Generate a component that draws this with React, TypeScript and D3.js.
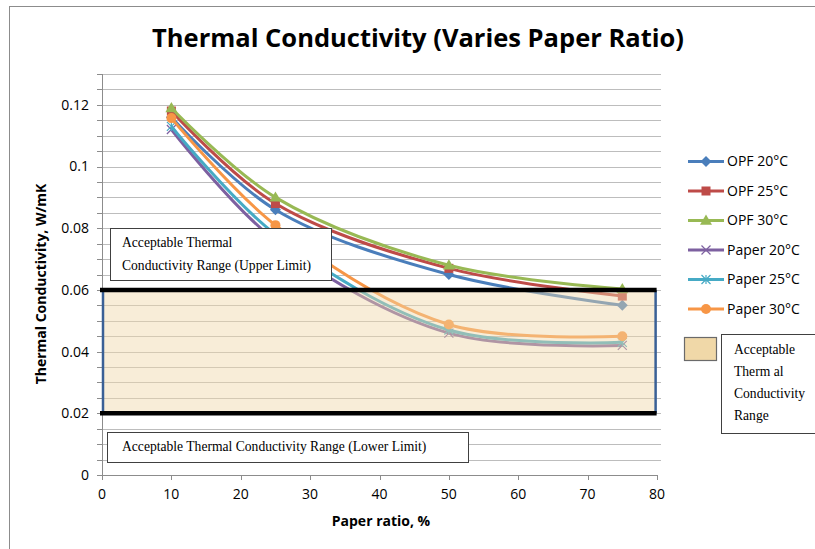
import React from "react";
import * as d3 from "d3";

const xValues = [10, 25, 50, 75];
const seriesNames = ["OPF 20°C", "OPF 25°C", "OPF 30°C", "Paper 20°C", "Paper 25°C", "Paper 30°C"];
const opf20 = [0.116, 0.086, 0.065, 0.055];
const opf25 = [0.118, 0.088, 0.067, 0.058];
const opf30 = [0.119, 0.09, 0.068, 0.0603];
const paper20 = [0.112, 0.076, 0.046, 0.042];
const paper25 = [0.113, 0.078, 0.047, 0.043];
const paper30 = [0.1157, 0.081, 0.0488, 0.045];
const xTicks = [0, 10, 20, 30, 40, 50, 60, 70, 80];
const yTicks = [0, 0.02, 0.04, 0.06, 0.08, 0.1, 0.12];
const rangeLow = 0.02;
const rangeHigh = 0.06;

const colors = ["#4a7ebb", "#be4b48", "#98b954", "#7d60a0", "#46aac5", "#f79646"];
const markers = ["diamond", "square", "triangle", "x", "star", "circle"];

const W = 815;
const H = 549;
const x = d3.scaleLinear().domain([0, 80]).range([102, 657]);
const y = d3.scaleLinear().domain([0, 0.13]).range([475, 74]);

function Marker({ type, cx, cy, color }: { type: string; cx: number; cy: number; color: string }) {
  if (type === "diamond") {
    const s = 5.5;
    return <path d={`M${cx},${cy - s}L${cx + s},${cy}L${cx},${cy + s}L${cx - s},${cy}Z`} fill={color} />;
  }
  if (type === "square") return <rect x={cx - 4.5} y={cy - 4.5} width={9} height={9} fill={color} />;
  if (type === "triangle") {
    const s = 6;
    return <path d={`M${cx},${cy - s}L${cx + s},${cy + s * 0.7}L${cx - s},${cy + s * 0.7}Z`} fill={color} />;
  }
  if (type === "x") {
    const s = 4.5;
    return (
      <path d={`M${cx - s},${cy - s}L${cx + s},${cy + s}M${cx - s},${cy + s}L${cx + s},${cy - s}`} stroke={color} strokeWidth={1.2} fill="none" />
    );
  }
  if (type === "star") {
    const s = 4.5;
    return (
      <path d={`M${cx - s},${cy - s}L${cx + s},${cy + s}M${cx - s},${cy + s}L${cx + s},${cy - s}M${cx},${cy - s}L${cx},${cy + s}`} stroke={color} strokeWidth={1.2} fill="none" />
    );
  }
  return <circle cx={cx} cy={cy} r={5} fill={color} />;
}

export default function App() {
  const allSeries = [opf20, opf25, opf30, paper20, paper25, paper30];
  const line = d3
    .line<number>()
    .x((_, i) => x(xValues[i]))
    .y((d) => y(d))
    .curve(d3.curveCatmullRom.alpha(0.5));

  const grid: number[] = [];
  for (let i = 1; i <= 26; i++) grid.push(i * 0.005);
  const minorTicks: number[] = [];
  for (let i = 0; i <= 26; i++) minorTicks.push(i * 0.005);

  const sans = "'Open Sans', 'Liberation Sans', sans-serif";
  const serif = "'Liberation Serif', 'DejaVu Serif', serif";

  return (
    <svg width={W} height={H} style={{ position: "absolute", left: 0, top: 0 }} fontFamily={sans}>
      <rect x={0} y={0} width={W} height={H} fill="#fff" />
      <rect x={9.5} y={6.5} width={W + 20} height={H + 20} fill="none" stroke="#8c8c8c" strokeWidth={1} />
      <text x={418} y={47} textAnchor="middle" fontSize={25.5} fontWeight="bold" fill="#000">
        Thermal Conductivity (Varies Paper Ratio)
      </text>

      {/* gridlines */}
      {grid.map((g) => (
        <line key={g} x1={x(0)} x2={x(80) + 4} y1={Math.round(y(g)) + 0.5} y2={Math.round(y(g)) + 0.5} stroke="#bdbdbd" strokeWidth={1} />
      ))}
      <line x1={x(0)} x2={x(80) + 4} y1={74.5} y2={74.5} stroke="#bdbdbd" />

      {/* axes */}
      <line x1={x(0) + 0.5} x2={x(0) + 0.5} y1={y(0.13)} y2={y(0)} stroke="#8c8c8c" />
      <line x1={x(0)} x2={x(80)} y1={y(0) + 0.5} y2={y(0) + 0.5} stroke="#8c8c8c" />
      {minorTicks.map((t) => (
        <line key={t} x1={x(0) - 5} x2={x(0)} y1={Math.round(y(t)) + 0.5} y2={Math.round(y(t)) + 0.5} stroke="#8c8c8c" />
      ))}
      {xTicks.map((t) => (
        <line key={t} x1={Math.round(x(t)) + 0.5} x2={Math.round(x(t)) + 0.5} y1={y(0)} y2={y(0) + 5} stroke="#8c8c8c" />
      ))}
      {yTicks.map((t) => (
        <text key={t} x={89} y={y(t)} dy="0.35em" textAnchor="end" fontSize={14} fill="#000">
          {t === 0 ? "0" : String(+t.toFixed(2))}
        </text>
      ))}
      {xTicks.map((t) => (
        <text key={t} x={x(t)} y={499} textAnchor="middle" fontSize={14} fill="#000">
          {t}
        </text>
      ))}
      <text x={381} y={526} textAnchor="middle" fontSize={14} fontWeight="bold">
        Paper ratio, %
      </text>
      <text transform={`translate(46,284) rotate(-90)`} textAnchor="middle" fontSize={14} fontWeight="bold">
        Thermal Conductivity, W/mK
      </text>

      {/* series */}
      {allSeries.map((s, k) => (
        <g key={k}>
          <path d={line(s) || ""} fill="none" stroke={colors[k]} strokeWidth={3} />
          {s.map((v, i) => (
            <Marker key={i} type={markers[k]} cx={x(xValues[i])} cy={y(v)} color={colors[k]} />
          ))}
        </g>
      ))}

      {/* acceptable range box */}
      <rect x={x(0)} y={y(rangeHigh)} width={x(79.8) - x(0)} height={y(rangeLow) - y(rangeHigh)} fill="#f0d8a8" fillOpacity={0.45} />
      <line x1={x(0) + 1} x2={x(0) + 1} y1={y(rangeHigh)} y2={y(rangeLow)} stroke="#3a6096" strokeWidth={2.5} />
      <line x1={x(79.8)} x2={x(79.8)} y1={y(rangeHigh)} y2={y(rangeLow)} stroke="#3a6096" strokeWidth={2.5} />
      <line x1={x(0) - 2} x2={x(79.8) + 1} y1={y(rangeHigh)} y2={y(rangeHigh)} stroke="#000" strokeWidth={4.5} />
      <line x1={x(0) - 2} x2={x(79.8) + 1} y1={y(rangeLow)} y2={y(rangeLow)} stroke="#000" strokeWidth={4.5} />

      {/* upper limit text box */}
      <rect x={110.5} y={228.5} width={221} height={52} fill="#fff" stroke="#404040" strokeWidth={1} />
      <text x={122} y={247} fontFamily={serif} fontSize={13.6} fill="#000">
        Acceptable Thermal
      </text>
      <text x={122} y={270} fontFamily={serif} fontSize={13.6} fill="#000">
        Conductivity Range (Upper Limit)
      </text>

      {/* lower limit text box */}
      <rect x={107.5} y={432.5} width={361} height={30} fill="#fff" stroke="#404040" strokeWidth={1} />
      <text x={122} y={451} fontFamily={serif} fontSize={13.6} fill="#000">
        Acceptable Thermal Conductivity Range (Lower Limit)
      </text>

      {/* legend */}
      {seriesNames.map((n, k) => {
        const ly = 161.5 + k * 29.5;
        return (
          <g key={n}>
            <line x1={688} x2={724} y1={ly} y2={ly} stroke={colors[k]} strokeWidth={3} />
            <Marker type={markers[k]} cx={706} cy={ly} color={colors[k]} />
            <text x={727} y={ly} dy="0.35em" fontSize={14} fill="#000">
              {n}
            </text>
          </g>
        );
      })}
      <rect x={684.5} y={337.5} width={32} height={23} fill="#f0d8a8" stroke="#6a6a6a" strokeWidth={1.2} />
      <rect x={721.5} y={334.5} width={100} height={99} fill="#fff" stroke="#404040" strokeWidth={1} />
      {["Acceptable", "Therm al", "Conductivity", "Range"].map((t, i) => (
        <text key={t} x={734} y={354 + i * 22} fontFamily={serif} fontSize={13.6} fill="#000">
          {t}
        </text>
      ))}
    </svg>
  );
}
